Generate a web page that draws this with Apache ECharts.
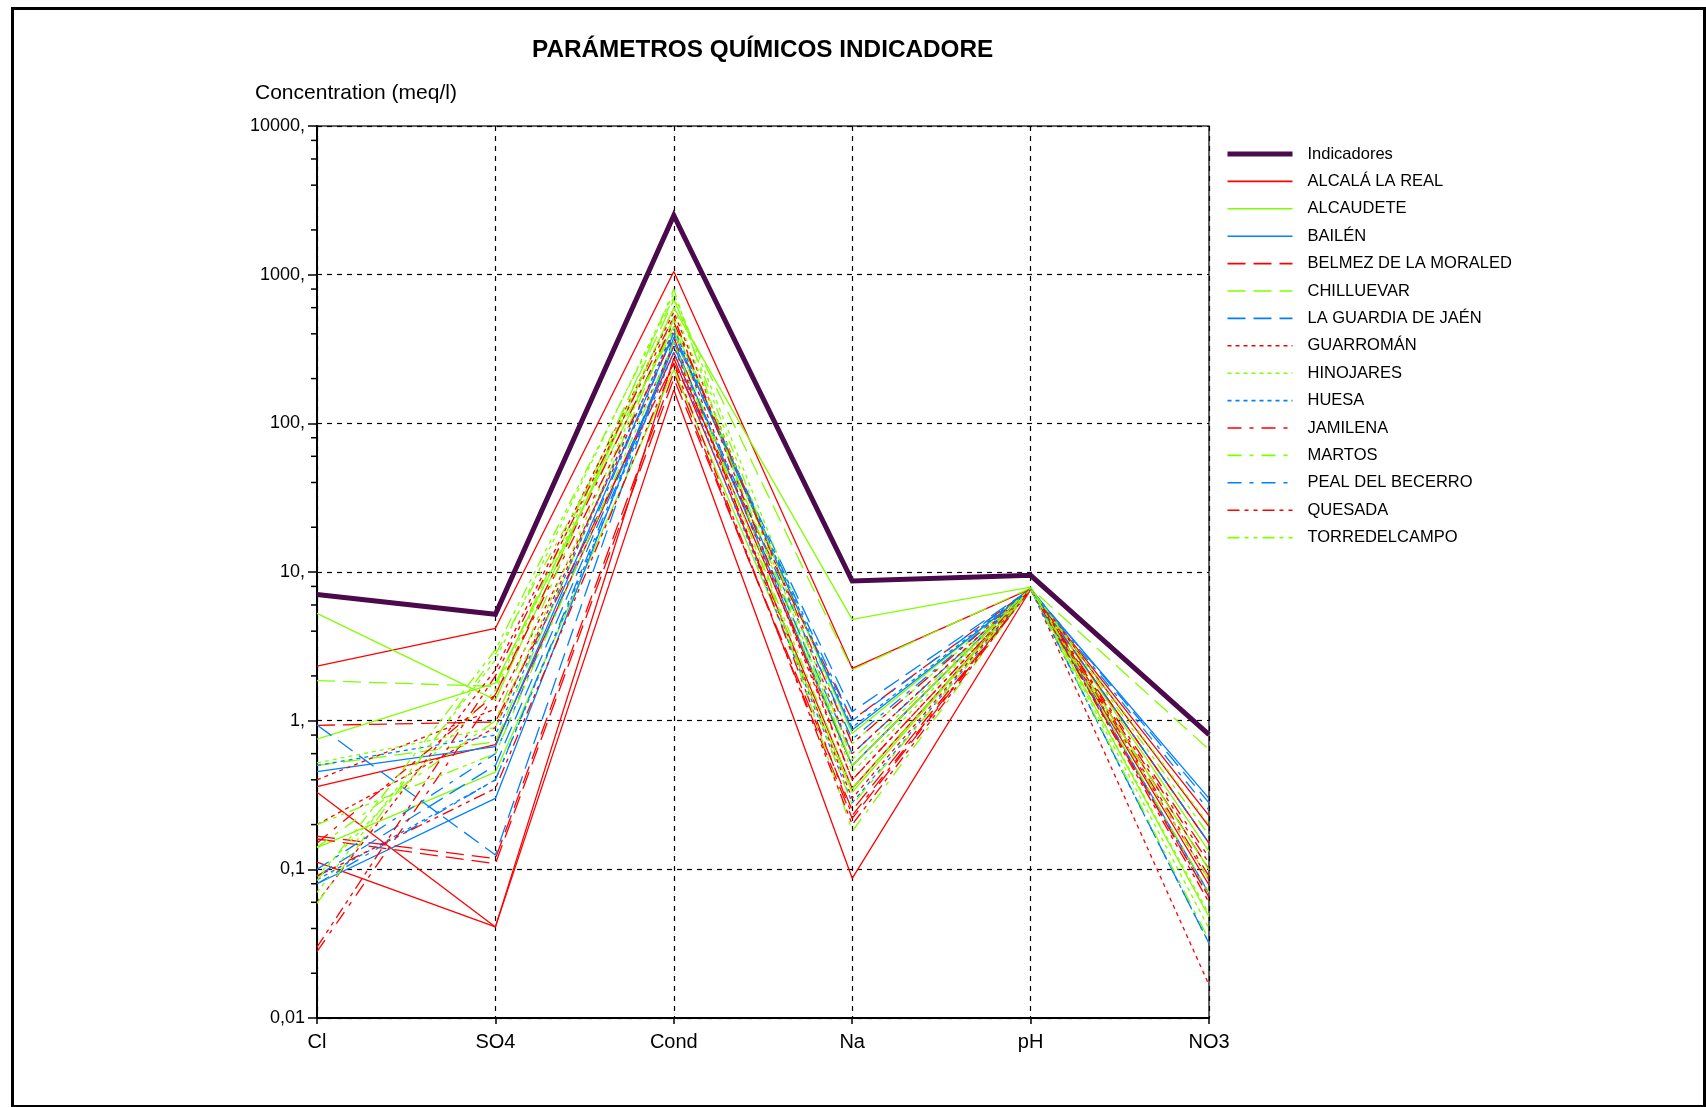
<!DOCTYPE html>
<html><head><meta charset="utf-8">
<script src="https://cdn.jsdelivr.net/npm/echarts@6/dist/echarts.min.js"></script>
<style>html,body{margin:0;padding:0;background:#fff}#c{width:1706px;height:1107px}</style>
</head><body><div id="c"></div>
<script>
// ---------- DATA ----------
const categories = ['Cl', 'SO4', 'Cond', 'Na', 'pH', 'NO3'];
const yTickValues = [0.01, 0.1, 1, 10, 100, 1000, 10000];
const yTickLabels = ['0,01', '0,1', '1,', '10,', '100,', '1000,', '10000,'];
const yMinorTickValues = [0.02, 0.04, 0.06, 0.08, 0.2, 0.4, 0.6, 0.8, 2, 4, 6, 8,
  20, 40, 60, 80, 200, 400, 600, 800, 2000, 4000, 6000, 8000];

const indicadores = [7.05, 5.2, 2500, 8.7, 9.5, 0.806];
const alcalaLaReal = [
  [2.33, 4.18, 1050, 2.25, 7.7, 0.194],
  [0.33, 0.041, 275, 0.35, 7.7, 0.15],
  [0.112, 0.041, 168, 0.087, 7.6, 0.23],
  [0.36, 0.69, 300, 0.5, 7.8, 0.0785]
];
const alcaudete = [
  [5.27, 1.38, 600, 4.8, 7.9, 0.132],
  [0.75, 1.79, 450, 0.82, 7.7, 0.048],
  [0.14, 0.45, 230, 0.33, 7.7, 0.1]
];
const bailen = [
  [0.454, 0.67, 405, 0.865, 7.6, 0.3],
  [0.08, 0.3, 354, 0.5, 7.7, 0.069]
];
const belmez = [
  [0.93, 0.98, 254, 1.01, 7.7, 0.15],
  [0.167, 0.118, 220, 0.22, 7.7, 0.1],
  [0.16, 0.109, 200, 0.25, 7.6, 0.065]
];
const chilluevar = [
  [1.86, 1.7, 675, 2.2, 7.8, 0.64],
  [0.5, 0.72, 500, 0.5, 7.7, 0.099]
];
const laGuardia = [
  [0.935, 0.125, 380, 1.15, 7.7, 0.28],
  [0.09, 0.5, 330, 0.6, 7.7, 0.0318]
];
const guarroman = [
  [0.06, 2.2, 560, 0.6, 7.8, 0.0167],
  [0.4, 1.2, 330, 0.3, 7.7, 0.065],
  [0.2, 0.9, 420, 0.4, 7.7, 0.085]
];
const hinojares = [
  [0.52, 0.9, 520, 0.45, 7.7, 0.2],
  [0.07, 2.56, 750, 0.7, 7.8, 0.04],
  [0.09, 1.6, 600, 0.5, 7.7, 0.05]
];
const huesa = [
  [0.5, 0.8, 430, 0.9, 7.7, 0.069],
  [0.085, 0.4, 300, 0.28, 7.6, 0.0318]
];
const jamilena = [
  [0.028, 1.5, 380, 0.23, 7.7, 0.12],
  [0.15, 1.5, 480, 0.7, 7.8, 0.09]
];
const martos = [
  [0.059, 2.8, 420, 0.27, 7.7, 0.0335],
  [0.141, 1.0, 800, 0.18, 7.8, 0.07]
];
const pealDelBecerro = [
  [0.1, 0.6, 400, 1.0, 7.7, 0.25],
  [0.08, 0.4, 330, 0.75, 7.7, 0.15]
];
const quesada = [
  [0.03, 2.0, 520, 0.4, 7.7, 0.11],
  [0.09, 0.35, 250, 0.2, 7.7, 0.06]
];
const torredelcampo = [
  [0.084, 3.0, 700, 0.55, 7.8, 0.17],
  [0.2, 0.6, 350, 0.35, 7.7, 0.085]
];

// ---------- STYLES ----------
const RED = '#ff0000', GREEN = '#80ff00', BLUE = '#0080ff', PURPLE = '#4b0a4b';
const DASH = {
  solid: 'solid',
  long: [18, 8],
  dot: [4, 4],
  dashDot: [14, 8, 4, 8],
  dashDotDot: [12, 5, 4, 5, 4, 5]
};
const groups = [
  { name: 'ALCALÁ LA REAL', data: alcalaLaReal, color: RED, dash: DASH.solid },
  { name: 'ALCAUDETE', data: alcaudete, color: GREEN, dash: DASH.solid },
  { name: 'BAILÉN', data: bailen, color: BLUE, dash: DASH.solid },
  { name: 'BELMEZ DE LA MORALED', data: belmez, color: RED, dash: DASH.long },
  { name: 'CHILLUEVAR', data: chilluevar, color: GREEN, dash: DASH.long },
  { name: 'LA GUARDIA DE JAÉN', data: laGuardia, color: BLUE, dash: DASH.long },
  { name: 'GUARROMÁN', data: guarroman, color: RED, dash: DASH.dot },
  { name: 'HINOJARES', data: hinojares, color: GREEN, dash: DASH.dot },
  { name: 'HUESA', data: huesa, color: BLUE, dash: DASH.dot },
  { name: 'JAMILENA', data: jamilena, color: RED, dash: DASH.dashDot },
  { name: 'MARTOS', data: martos, color: GREEN, dash: DASH.dashDot },
  { name: 'PEAL DEL BECERRO', data: pealDelBecerro, color: BLUE, dash: DASH.dashDot },
  { name: 'QUESADA', data: quesada, color: RED, dash: DASH.dashDotDot },
  { name: 'TORREDELCAMPO', data: torredelcampo, color: GREEN, dash: DASH.dashDotDot }
];

const FONT = '"Liberation Sans", Arial, sans-serif';
const series = [];
groups.forEach(g => {
  g.data.forEach(row => {
    series.push({
      type: 'line', name: g.name, data: row, symbol: 'none', silent: true,
      color: g.color,
      lineStyle: { color: g.color, width: 1.3, type: g.dash },
      emphasis: { disabled: true }, z: 3
    });
  });
});
series.push({
  type: 'line', name: 'Indicadores', data: indicadores, symbol: 'none', silent: true,
  color: PURPLE,
  lineStyle: { color: PURPLE, width: 5, join: 'miter' },
  emphasis: { disabled: true }, z: 4
});
series.push({
  type: 'custom', name: '_minorTicks', silent: true, clip: false, z: 6,
  data: yMinorTickValues.map(v => [0, v]),
  encode: { x: 0, y: 1 },
  renderItem: function (params, api) {
    const p = api.coord([api.value(0), api.value(1)]);
    return { type: 'line', shape: { x1: p[0] - 6, y1: p[1], x2: p[0], y2: p[1] },
      style: { stroke: '#000', lineWidth: 1.5 } };
  }
});

const legendData = [{ name: 'Indicadores', lineStyle: { width: 5, color: PURPLE, type: 'solid' } }]
  .concat(groups.map(g => ({ name: g.name, lineStyle: { width: 1.6, color: g.color, type: g.dash } })));

const chart = echarts.init(document.getElementById('c'), null, { renderer: 'canvas' });
chart.setOption({
  animation: false,
  backgroundColor: '#fff',
  title: {
    text: 'PARÁMETROS QUÍMICOS INDICADORE',
    left: 527, top: 32,
    textStyle: { fontFamily: FONT, fontWeight: 'bold', fontSize: 24.3, color: '#000', lineHeight: 26 }
  },
  graphic: [
    { type: 'rect', left: 10, top: 6, shape: { width: 1692, height: 1098 }, z: -1,
      style: { fill: 'none', stroke: '#000', lineWidth: 3 } },
    { type: 'text', left: 255, top: 83,
      style: { text: 'Concentration (meq/l)', font: '21px ' + FONT, fill: '#000' } }
  ],
  legend: {
    orient: 'vertical', left: 1220, top: 140,
    itemWidth: 65, itemHeight: 18, itemGap: 9.4,
    data: legendData,
    itemStyle: { opacity: 0, borderWidth: 0 },
    textStyle: { fontFamily: FONT, fontSize: 16.5, color: '#000', lineHeight: 18, padding: [0, 0, 0, 10] },
    selectedMode: false
  },
  grid: {
    left: 317, top: 126, width: 892, height: 892,
    show: true, borderColor: '#333', borderWidth: 1.5, backgroundColor: 'transparent'
  },
  xAxis: {
    type: 'category', data: categories, boundaryGap: false,
    axisLine: { lineStyle: { color: '#000', width: 2 } },
    axisTick: { show: true, interval: 0, length: 6, lineStyle: { color: '#000', width: 1.5 } },
    axisLabel: { fontFamily: FONT, fontSize: 20, color: '#000', margin: 14, interval: 0 },
    splitLine: { show: true, interval: 0, lineStyle: { color: '#000', width: 1.2, type: [5, 5] } }
  },
  yAxis: {
    type: 'log', logBase: 10, min: 0.01, max: 10000,
    axisLine: { show: true, lineStyle: { color: '#000', width: 2 } },
    axisTick: { show: true, length: 9, lineStyle: { color: '#000', width: 1.5 } },
    axisLabel: {
      fontFamily: FONT, fontSize: 18, color: '#000', margin: 12,
      formatter: function (v) {
        const i = yTickValues.findIndex(t => Math.abs(Math.log10(t) - Math.log10(v)) < 1e-6);
        return i >= 0 ? yTickLabels[i] : '';
      }
    },
    splitLine: { show: true, lineStyle: { color: '#000', width: 1.2, type: [5, 5] } }
  },
  series: series
});
</script></body></html>
